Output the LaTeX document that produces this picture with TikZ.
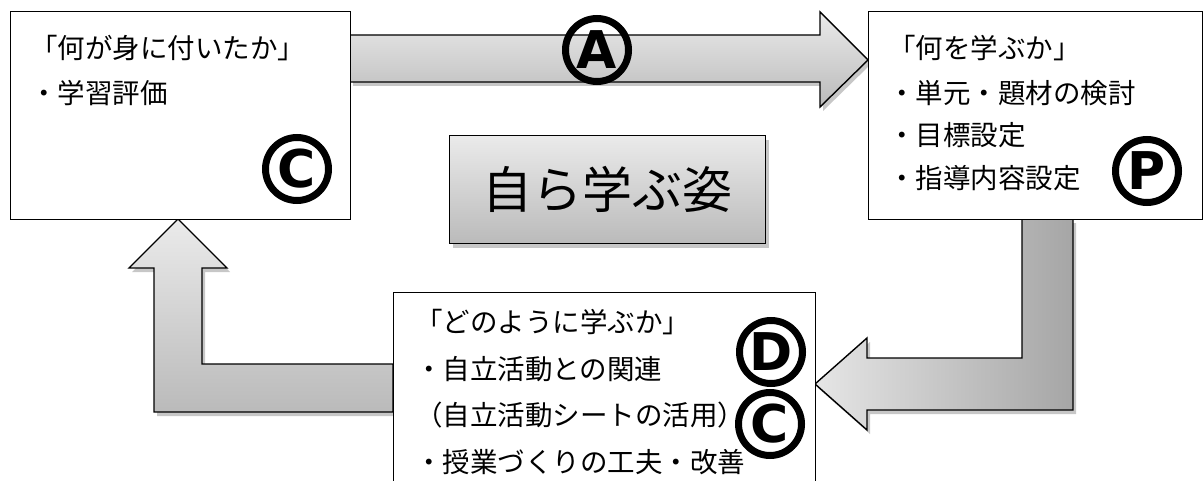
\documentclass[tikz,border=0pt]{standalone}
\usepackage{fontspec}
\newfontfamily\jp{Noto Sans CJK JP}
\newfontfamily\lat{DejaVu Sans}
\usetikzlibrary{shadows}
\tikzset{
  box/.style={draw=black, line width=1.2pt, fill=white},
  txt/.style={anchor=west, inner sep=0pt, font=\jp\fontsize{27.5}{30}\selectfont},
  shad/.style={drop shadow={shadow xshift=3pt, shadow yshift=-4pt, opacity=0.22, fill=black}},
  blockarrow/.style={draw=black, line width=1.4pt, line join=miter, shad},
  vshade/.style={top color=black!8, bottom color=black!27},
  hshade/.style={left color=black!10, right color=black!35},
  circlet/.style={circle, draw=black, line width=7pt, minimum size=63pt, inner sep=0pt,
    font=\lat\bfseries\fontsize{52}{52}\selectfont}
}
\begin{document}
\begin{tikzpicture}[x=1pt, y=-1pt]
\useasboundingbox (0,0) rectangle (1204,481);
% block arrows
\draw[blockarrow, vshade] (350,35) -- (820,35) -- (820,12) -- (868,60) -- (820,107) -- (820,82) -- (350,82) -- cycle;
\draw[blockarrow, vshade] (178,219) -- (227,268) -- (202,268) -- (202,364) -- (393,364) -- (393,412) -- (154,412) -- (154,268) -- (129,268) -- cycle;
\draw[blockarrow, hshade] (1022,219) -- (1073,219) -- (1073,410) -- (867,410) -- (867,430) -- (815,384) -- (867,338) -- (867,358) -- (1022,358) -- cycle;
% boxes
\node[box, anchor=north west, minimum width=340pt, minimum height=208pt] (C) at (10,11) {};
\node[box, anchor=north west, minimum width=334pt, minimum height=208pt] (P) at (868,11) {};
\node[box, anchor=north west, minimum width=422pt, minimum height=220pt] (D) at (393,292) {};
\node[draw=black, line width=1.4pt, vshade, shad, anchor=north west, minimum width=316pt, minimum height=108pt,
  font=\jp\fontsize{50}{50}\selectfont] (S) at (449,135) {自ら学ぶ姿};
% texts
\node[txt] (c1) at (30,48) {「何が身に付いたか」};
\node[txt] (c2) at (30,93) {・学習評価};
\node[txt] (p1) at (888,48) {「何を学ぶか」};
\node[txt] (p2) at (888,93) {・単元・題材の検討};
\node[txt] (p3) at (888,135) {・目標設定};
\node[txt] (p4) at (888,178) {・指導内容設定};
\node[txt] (d1) at (415,322) {「どのように学ぶか」};
\node[txt] (d2) at (415,369) {・自立活動との関連};
\node[txt] (d3) at (415,415) {（自立活動シートの活用）};
\node[txt] (d4) at (415,462) {・授業づくりの工夫・改善};
% circled letters
\node[circlet] (mA) at (597,50) {A};
\node[circlet] (mC) at (297,169) {C};
\node[circlet] (mP) at (1147,171) {P};
\node[circlet] (mD) at (771,352) {D};
\node[circlet] (mC2) at (770,424) {C};
\end{tikzpicture}
\end{document}
